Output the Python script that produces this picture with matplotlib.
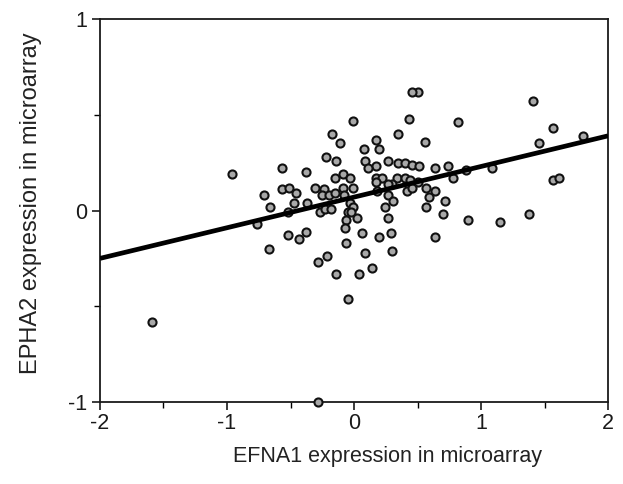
import matplotlib
matplotlib.use("Agg")
import matplotlib.pyplot as plt
from matplotlib.ticker import MultipleLocator

# EFNA1 (x) vs EPHA2 (y) expression values
efna1 = [
    -1.59, -0.96, -0.28, -0.71, -0.66, -0.57, -0.57, -0.51, -0.46, -0.47,
    -0.38, -0.37, -0.31, -0.24, -0.22, -0.14, -0.17, -0.11, -0.01, -0.15,
    -0.09, -0.03, -0.25, -0.20, -0.15, -0.09, -0.08, -0.01, -0.03, -0.01,
    -0.52, -0.76, -0.27, -0.23, -0.18, -0.05, -0.06, 0.02, -0.07, -0.52,
    -0.38, -0.43, -0.67, -0.06, -0.28, -0.21, -0.14, -0.05, 0.50, 0.46,
    1.41, 0.43, 0.82, 0.35, 1.57, 1.80, 1.46, 0.56, 0.17, 0.20,
    0.08, 0.09, 0.17, 0.11, 0.27, 0.35, 0.40, 0.46, 0.51, 0.64,
    0.74, 0.78, 0.88, 1.09, 1.57, 1.61, 0.17, 0.22, 0.34, 0.40,
    0.44, 0.50, 0.30, 0.17, 0.27, 0.42, 0.46, 0.57, 0.64, 0.27,
    0.31, 0.24, 0.59, 0.57, 0.72, 0.70, 0.90, 1.15, 1.38, -0.02,
    0.06, 0.20, 0.29, 0.64, 0.09, 0.30, 0.14, 0.04, 0.27, 0.18,
]
epha2 = [
    -0.58, 0.19, -1.00, 0.08, 0.02, 0.22, 0.11, 0.12, 0.09, 0.04,
    0.20, 0.04, 0.12, 0.11, 0.28, 0.26, 0.40, 0.35, 0.47, 0.17,
    0.19, 0.17, 0.08, 0.08, 0.09, 0.12, 0.08, 0.12, 0.04, 0.02,
    -0.01, -0.07, -0.01, 0.01, 0.01, -0.01, -0.05, -0.04, -0.09, -0.13,
    -0.11, -0.15, -0.20, -0.17, -0.27, -0.24, -0.33, -0.46, 0.62, 0.62,
    0.57, 0.48, 0.46, 0.40, 0.43, 0.39, 0.35, 0.36, 0.37, 0.32,
    0.32, 0.26, 0.23, 0.22, 0.26, 0.25, 0.25, 0.24, 0.23, 0.22,
    0.23, 0.17, 0.21, 0.22, 0.16, 0.17, 0.17, 0.17, 0.17, 0.17,
    0.16, 0.15, 0.14, 0.15, 0.14, 0.10, 0.12, 0.12, 0.10, 0.08,
    0.05, 0.02, 0.07, 0.02, 0.05, -0.02, -0.05, -0.06, -0.02, -0.01,
    -0.12, -0.14, -0.12, -0.14, -0.22, -0.21, -0.30, -0.33, -0.04, 0.10,
]

# regression line end points
fit_x = [-2, 2]
fit_y = [-0.25, 0.39]

plt.rcParams['font.family'] = ['Liberation Sans', 'DejaVu Sans']
plt.rcParams['axes.unicode_minus'] = False

fig = plt.figure(figsize=(6.23, 4.84), dpi=100)
ax = fig.add_axes([0.1605, 0.1694, 0.8155, 0.7913])

ax.scatter(efna1, epha2, s=34, facecolor='#a8a8a8', edgecolor='#111111',
           linewidth=1.5, zorder=3, clip_on=False)
ax.plot(fit_x, fit_y, color='black', linewidth=3.4, zorder=4,
        solid_capstyle='butt')

ax.set_xlim(-2, 2)
ax.set_ylim(-1, 1)
ax.xaxis.set_major_locator(MultipleLocator(1))
ax.xaxis.set_minor_locator(MultipleLocator(0.5))
ax.yaxis.set_major_locator(MultipleLocator(1))
ax.yaxis.set_minor_locator(MultipleLocator(0.5))
ax.tick_params(which='major', direction='out', length=6, width=1.2,
               labelsize=15.5, colors='#1a1a1a', pad=3)
ax.tick_params(axis='x', which='major', pad=2)
ax.tick_params(which='minor', direction='out', length=4, width=1.0)
for side in ax.spines.values():
    side.set_linewidth(1.3)
    side.set_color('#1a1a1a')

ax.set_xlabel('EFNA1 expression in microarray', fontsize=15.5,
              color='#222222')
ax.set_ylabel('EPHA2 expression in microarray', fontsize=17,
              color='#222222')
ax.xaxis.set_label_coords(0.565, -0.115)
ax.yaxis.set_label_coords(-0.115, 0.52)

fig.savefig('out.png', dpi=100)
